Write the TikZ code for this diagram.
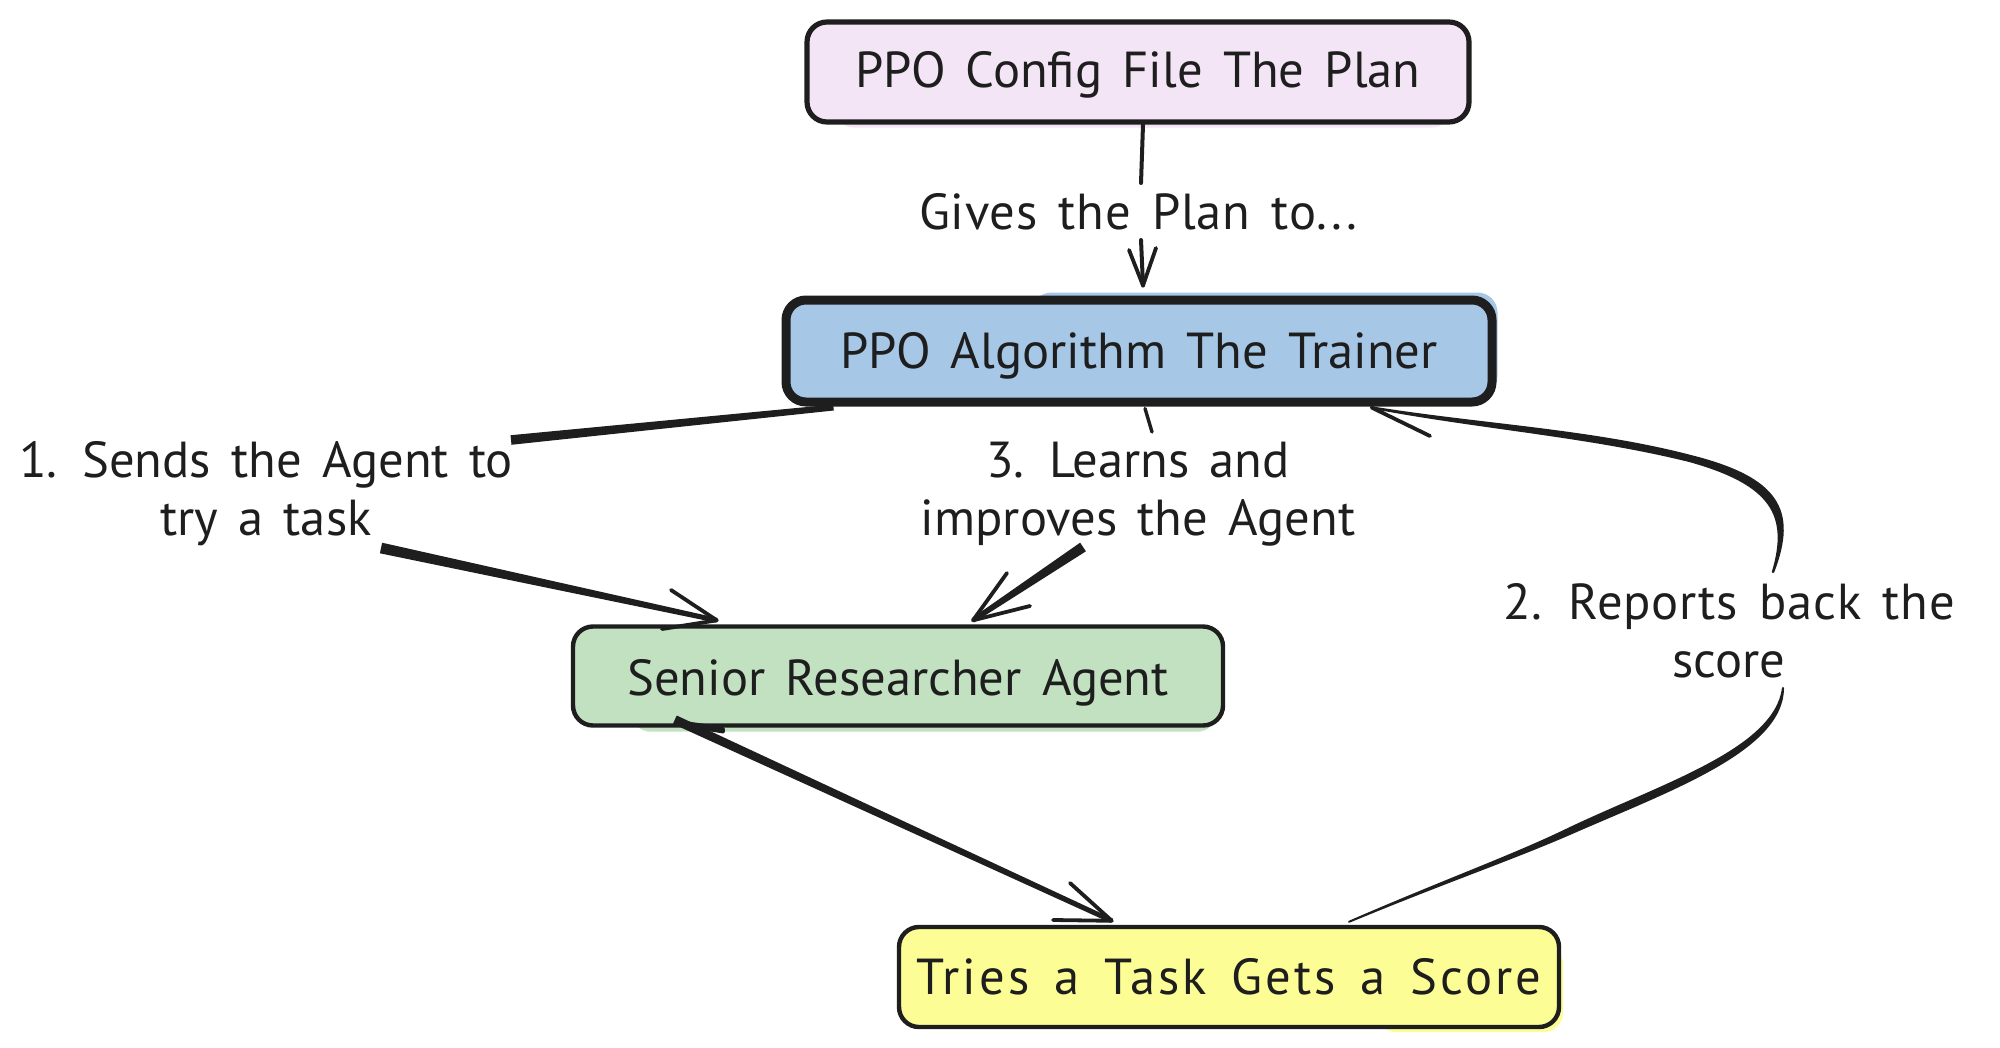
\documentclass[tikz,border=0pt]{standalone}
\usepackage{fontspec}
\setmainfont[WordSpace=1.5]{PT Sans}
\usetikzlibrary{calc,backgrounds}
\definecolor{ink}{HTML}{1E1E1E}
\definecolor{cfgfill}{HTML}{F3E5F5}
\definecolor{algfill}{HTML}{A7C7E7}
\definecolor{agtfill}{HTML}{C1E1C1}
\definecolor{envfill}{HTML}{FDFD96}
\newcommand{\taper}[4]{\fill[ink] ($(#1)!#3!90:(#2)$) -- ($(#1)!#3!-90:(#2)$) -- ($(#2)!#4!90:(#1)$) -- ($(#2)!#4!-90:(#1)$) -- cycle;}
\newcommand{\barbs}[3]{\draw[barb] (#2) -- (#1) -- (#3);}
\tikzset{
  box/.style={draw=ink,rounded corners=10pt,minimum height=50pt,align=center,text=ink,inner sep=0pt,font=\fontsize{25.3}{30}\selectfont},
  lab/.style={align=center,text=ink,inner sep=0pt,font=\fontsize{25.3}{29}\selectfont},
  wire/.style={draw=ink,line width=2pt,line cap=round},
  barb/.style={draw=ink,line width=1.9pt,line cap=round,line join=round},
}
\begin{document}
\begin{tikzpicture}[x=.5pt,y=-.5pt]
\useasboundingbox (0,0) rectangle (2000,1048);
% nodes
\node[box,fill=cfgfill,line width=2.6pt,minimum width=331pt,minimum height=50pt] (cfg) at (1138,72) {\raisebox{-1.6pt}[\height][\depth]{PPO Config File The Plan}};
\node[box,fill=algfill,line width=4.5pt,minimum width=353pt,minimum height=51pt] (alg) at (1139,351) {\raisebox{-2.5pt}[\height][\depth]{PPO Algorithm The Trainer}};
\node[box,fill=agtfill,line width=2.2pt,minimum width=325pt,minimum height=49.5pt] (agt) at (898,676) {\raisebox{-3.2pt}[\height][\depth]{Senior Researcher Agent}};
\node[box,fill=envfill,line width=2.2pt,minimum width=330pt,minimum height=50pt] (env) at (1229,977) {\addfontfeature{LetterSpace=6}Tries a Task Gets a Score};
% labels
\node[lab] (l0) at (1138,212) {\addfontfeature{LetterSpace=1.5}Gives the Plan to...};
\node[lab] (l1) at (266,494) {1. Sends the Agent to\\try a task};
\node[lab] (l3) at (1138,494) {3. Learns and\\improves the Agent};
\node[lab] (l2) at (1729,631) {\addfontfeature{LetterSpace=1.5}2. Reports back the\\score};
% fill offsets
\begin{scope}[on background layer]
\fill[cfgfill,rounded corners=10pt] ($(cfg.south west)+(30,3)$) rectangle ($(cfg.north east)+(-20,0)$);
\fill[algfill,rounded corners=10pt] ($(alg.north west)+(250,-3)$) rectangle ($(alg.south east)+(1,-10)$);
\fill[agtfill,rounded corners=10pt] ($(agt.south west)+(60,4)$) rectangle ($(agt.north east)+(-8,5)$);
\fill[envfill,rounded corners=10pt] ($(env.south east)+(2,3)$) rectangle ($(env.north west)+(480,20)$);
\end{scope}
% anchors
\coordinate (a0) at ($(cfg.south)+(5,0)$);
\coordinate (a1) at (1141,183);
\coordinate (a2) at (1141,240);
\coordinate (a3) at ($(alg.north)+(4,-10)$);
\coordinate (a3l) at (1129,250);
\coordinate (a3r) at (1156,248);
\coordinate (b0) at ($(alg.south west)+(52,1)$);
\coordinate (b1) at (511,440);
\coordinate (b2) at (381,548);
\coordinate (b3) at ($(agt.north west)+(146,-4)$);
\coordinate (b3l) at (671,590);
\coordinate (b3r) at (662,629);
\coordinate (c0) at ($(alg.south)+(6,2)$);
\coordinate (c1) at (1152,432);
\coordinate (c2) at (1083,547);
\coordinate (c3) at ($(agt.north)+(75,-4)$);
\coordinate (c3l) at (1007,573);
\coordinate (c3r) at (1030,606);
\coordinate (d0) at ($(agt.south west)+(104,-8)$);
\coordinate (d1) at ($(env.north west)+(215,-4)$);
\coordinate (d1l) at (1070,883);
\coordinate (d1r) at (1053,920);
\coordinate (e0) at ($(env.north)+(120,-3)$);
\coordinate (e1) at (1783,688);
\coordinate (e2) at (1773,572);
\coordinate (e3) at ($(alg.south east)+(-125,1)$);
\coordinate (e3b) at (1430,436);
% connectors
\draw[wire] (a0) -- (a1);
\draw[wire] (a2) -- (a3);
\barbs{a3}{a3l}{a3r}
\taper{b0}{b1}{1.5pt}{2.4pt}
\taper{b2}{b3}{2.7pt}{1.2pt}
\barbs{b3}{b3l}{b3r}
\draw[wire,line width=1.7pt] (c0) -- (c1);
\taper{c2}{c3}{2.6pt}{1.2pt}
\barbs{c3}{c3l}{c3r}
\taper{d0}{d1}{2.3pt}{1.2pt}
\fill[ink,rounded corners=1pt] (d0) -- ($(d0)+(50,7)$) -- ($(d0)+(50,14)$) -- ($(d0)+(12,8)$) -- cycle;
\barbs{d1}{d1l}{d1r}
% curved connector 2
\filldraw[ink,line width=1pt,line join=round] (e0) .. controls (1450,878) and (1510,857) .. (1568,829) .. controls (1660,785) and (1775,750) .. (e1) .. controls (1783,750) and (1670,790) .. (1572,833) .. controls (1510,860) and (1450,880) .. cycle;
\filldraw[ink,line width=1.2pt,line join=round] (e2) .. controls (1797,510) and (1778,478) .. (1690,456) .. controls (1590,430) and (1480,425) .. (e3) .. controls (1480,428) and (1590,436) .. (1690,461) .. controls (1772,484) and (1790,515) .. cycle;
\draw[barb] (e3b) -- (e3);
\end{tikzpicture}
\end{document}
